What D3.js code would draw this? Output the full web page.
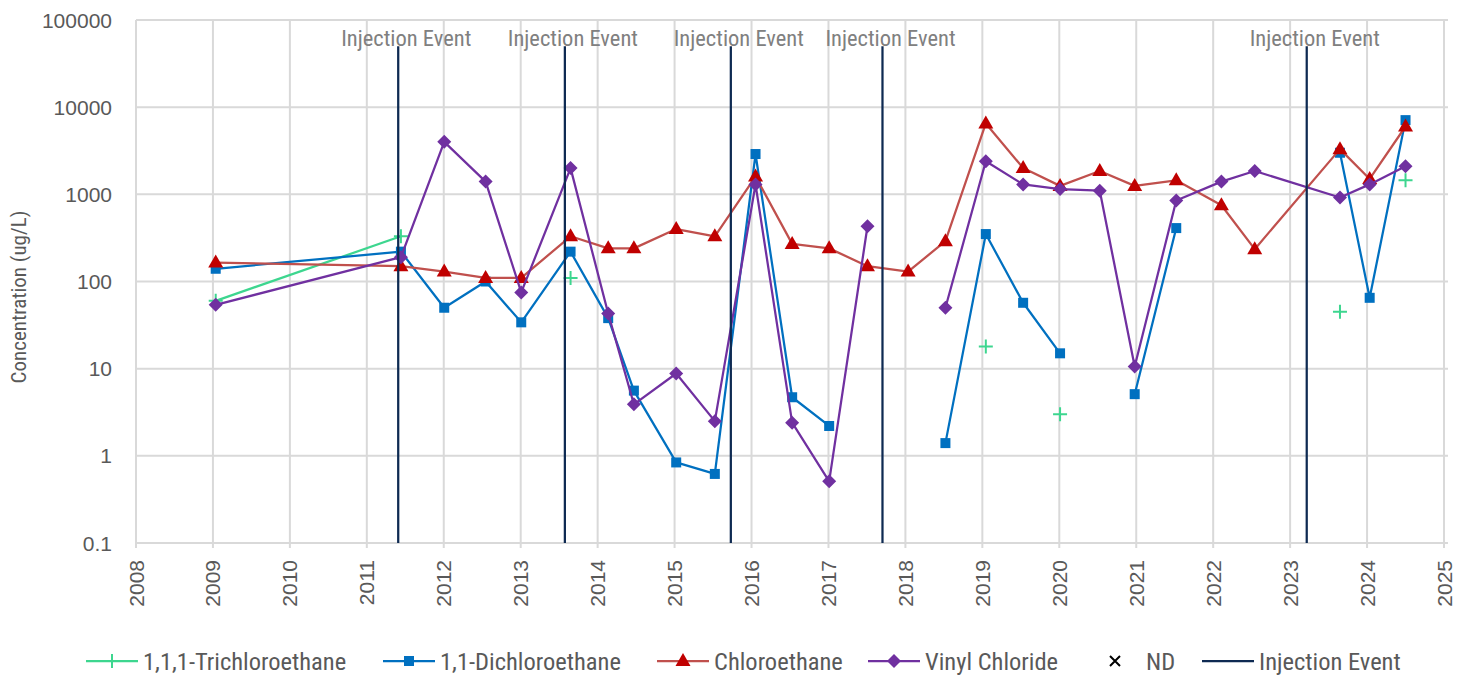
<!DOCTYPE html>
<html>
<head>
<meta charset="utf-8">
<script src="https://cdn.jsdelivr.net/npm/d3@7"></script>
<style>
  html, body { margin: 0; padding: 0; background: #ffffff; }
  svg { display: block; }
</style>
</head>
<body>
<svg id="chart" width="1473" height="675"></svg>
<script>
// ---------------- DATA ----------------
const sampleDates = [2009.036, 2011.443, 2012.006, 2012.544, 2013.007, 2013.648, 2014.137, 2014.471,
  2015.021, 2015.523, 2016.052, 2016.528, 2017.009, 2017.507, 2018.035, 2018.52, 2019.045, 2019.53,
  2020.01, 2020.526, 2020.98, 2021.52, 2022.107, 2022.54, 2023.648, 2024.034, 2024.5];

const trichloroethane = [60, 330, null, null, null, 110, null, null, null, null, null, null, null, null,
  null, null, 18, null, 3, null, null, null, null, null, 45, null, 1450];
const dichloroethane = [140, 220, 50, 100, 34, 220, 38, 5.6, 0.84, 0.62, 2900, 4.7, 2.2, null,
  null, 1.4, 350, 57, 15, null, 5.1, 410, null, null, 3000, 65, 7100];
const chloroethane = [165, 150, 130, 110, 110, 330, 240, 240, 400, 330, 1600, 270, 240, 150,
  130, 290, 6500, 2000, 1250, 1850, 1250, 1450, 750, 235, 3300, 1500, 6000];
const vinylChloride = [54, 190, 4000, 1400, 75, 2000, 43, 3.9, 8.8, 2.5, 1300, 2.4, 0.51, 430,
  null, 50, 2400, 1300, 1150, 1100, 10.6, 850, 1400, 1850, 920, 1300, 2100];

const injectionDates = [2011.408, 2013.574, 2015.731, 2017.702, 2023.216];
const injectionRange = [0.1, 50000];
const injectionLabel = "Injection Event";

const xTickYears = d3.range(2008, 2026);
const yTickValues = [0.1, 1, 10, 100, 1000, 10000, 100000];
const yTickLabels = ["0.1", "1", "10", "100", "1000", "10000", "100000"];

const seriesNames = ["1,1,1-Trichloroethane", "1,1-Dichloroethane", "Chloroethane", "Vinyl Chloride"];
const yAxisTitle = "Concentration (ug/L)";

// ---------------- STYLE ----------------
const seriesDefs = [
  { name: seriesNames[0], values: trichloroethane, line: "#3DD68F", fill: "#3DD68F", marker: "plus" },
  { name: seriesNames[1], values: dichloroethane, line: "#0070C0", fill: "#0070C0", marker: "square" },
  { name: seriesNames[2], values: chloroethane, line: "#C0504D", fill: "#C00000", marker: "triangle" },
  { name: seriesNames[3], values: vinylChloride, line: "#7030A0", fill: "#7030A0", marker: "diamond" }
];
const injColor = "#0E2A52";
const gridColor = "#D9D9D9";
const textColor = "#595959";
const narrowFont = "'Liberation Sans Narrow', 'Roboto Condensed', 'Arial Narrow', sans-serif";
const tickFont = "'Liberation Sans', Arial, sans-serif";

const svg = d3.select("#chart");
const plot = { left: 136, right: 1444, top: 20, bottom: 543 };

const x = d3.scaleLinear().domain([2008, 2025]).range([plot.left, plot.right]);
const y = d3.scaleLog().domain([0.1, 100000]).range([plot.bottom, plot.top]);

// gridlines
const grid = svg.append("g");
grid.selectAll("line.h").data(yTickValues).enter().append("line")
  .attr("x1", plot.left).attr("x2", plot.right + 4)
  .attr("y1", d => y(d)).attr("y2", d => y(d))
  .attr("stroke", gridColor).attr("stroke-width", 2);
grid.selectAll("line.v").data(xTickYears).enter().append("line")
  .attr("x1", d => x(d)).attr("x2", d => x(d))
  .attr("y1", plot.top).attr("y2", plot.bottom + 5)
  .attr("stroke", gridColor).attr("stroke-width", 2);

// y tick labels
svg.append("g").selectAll("text").data(yTickValues).enter().append("text")
  .attr("x", plot.left - 24).attr("y", d => y(d))
  .attr("text-anchor", "end").attr("dominant-baseline", "central")
  .attr("font-family", tickFont).attr("font-size", 21).attr("fill", textColor)
  .text((d, i) => yTickLabels[i]);

// x tick labels (rotated)
svg.append("g").selectAll("text").data(xTickYears).enter().append("text")
  .attr("transform", d => `translate(${x(d)},${plot.bottom + 17}) rotate(-90)`)
  .attr("text-anchor", "end").attr("dominant-baseline", "central")
  .attr("font-family", tickFont).attr("font-size", 21).attr("fill", textColor)
  .text(d => String(d));

// y axis title
svg.append("text")
  .attr("transform", `translate(19,297) rotate(-90)`)
  .attr("text-anchor", "middle").attr("dominant-baseline", "central")
  .attr("font-family", narrowFont).attr("font-size", 21).attr("fill", textColor)
  .text(yAxisTitle);

// marker drawing
function drawMarker(g, type, cx, cy, color) {
  if (type === "square") {
    g.append("rect").attr("x", cx - 5).attr("y", cy - 5).attr("width", 10).attr("height", 10)
      .attr("fill", color);
  } else if (type === "triangle") {
    g.append("path").attr("d", `M${cx},${cy - 8} L${cx + 7.5},${cy + 5} L${cx - 7.5},${cy + 5} Z`)
      .attr("fill", color);
  } else if (type === "diamond") {
    g.append("path").attr("d", `M${cx},${cy - 7} L${cx + 7},${cy} L${cx},${cy + 7} L${cx - 7},${cy} Z`)
      .attr("fill", color);
  } else if (type === "plus") {
    g.append("path").attr("d", `M${cx - 7},${cy} L${cx + 7},${cy} M${cx},${cy - 7} L${cx},${cy + 7}`)
      .attr("stroke", color).attr("stroke-width", 2).attr("fill", "none");
  } else if (type === "x") {
    g.append("path").attr("d", `M${cx - 5},${cy - 5} L${cx + 5},${cy + 5} M${cx + 5},${cy - 5} L${cx - 5},${cy + 5}`)
      .attr("stroke", "#000").attr("stroke-width", 2).attr("fill", "none");
  }
}

// series
const lineGen = d3.line()
  .defined(d => d.v != null)
  .x(d => x(d.t)).y(d => y(d.v));

seriesDefs.forEach(s => {
  const pts = sampleDates.map((t, i) => ({ t: t, v: s.values[i] }));
  const g = svg.append("g");
  g.append("path").datum(pts).attr("d", lineGen)
    .attr("fill", "none").attr("stroke", s.line).attr("stroke-width", 2.25)
    .attr("stroke-linejoin", "round");
  pts.filter(p => p.v != null).forEach(p => drawMarker(g, s.marker, x(p.t), y(p.v), s.fill));
});

// injection events
const inj = svg.append("g");
inj.selectAll("line").data(injectionDates).enter().append("line")
  .attr("x1", d => x(d)).attr("x2", d => x(d))
  .attr("y1", y(injectionRange[1])).attr("y2", y(injectionRange[0]))
  .attr("stroke", injColor).attr("stroke-width", 2.25);
inj.selectAll("text").data(injectionDates).enter().append("text")
  .attr("x", d => x(d) + 8).attr("y", y(injectionRange[1]) - 8)
  .attr("text-anchor", "middle").attr("dominant-baseline", "central")
  .attr("font-family", narrowFont).attr("font-size", 22.5).attr("fill", "#808080")
  .text(injectionLabel);

// legend
const legendY = 661;
const legendItems = [
  { x: 86, label: seriesNames[0], color: seriesDefs[0].line, marker: "plus", mcol: seriesDefs[0].fill, line: true },
  { x: 383, label: seriesNames[1], color: seriesDefs[1].line, marker: "square", mcol: seriesDefs[1].fill, line: true },
  { x: 657, label: seriesNames[2], color: seriesDefs[2].line, marker: "triangle", mcol: seriesDefs[2].fill, line: true },
  { x: 868, label: seriesNames[3], color: seriesDefs[3].line, marker: "diamond", mcol: seriesDefs[3].fill, line: true },
  { x: 1089, label: "ND", color: null, marker: "x", mcol: "#000", line: false },
  { x: 1202, label: injectionLabel, color: injColor, marker: null, mcol: null, line: true }
];
const lg = svg.append("g");
legendItems.forEach(it => {
  const g = lg.append("g");
  if (it.line) {
    g.append("line").attr("x1", it.x).attr("x2", it.x + 52).attr("y1", legendY).attr("y2", legendY)
      .attr("stroke", it.color).attr("stroke-width", 2.25);
  }
  if (it.marker) drawMarker(g, it.marker, it.x + 26, legendY, it.mcol);
  g.append("text").attr("x", it.x + 57).attr("y", legendY)
    .attr("dominant-baseline", "central")
    .attr("font-family", narrowFont).attr("font-size", 24.5).attr("fill", textColor)
    .text(it.label);
});
</script>
</body>
</html>
